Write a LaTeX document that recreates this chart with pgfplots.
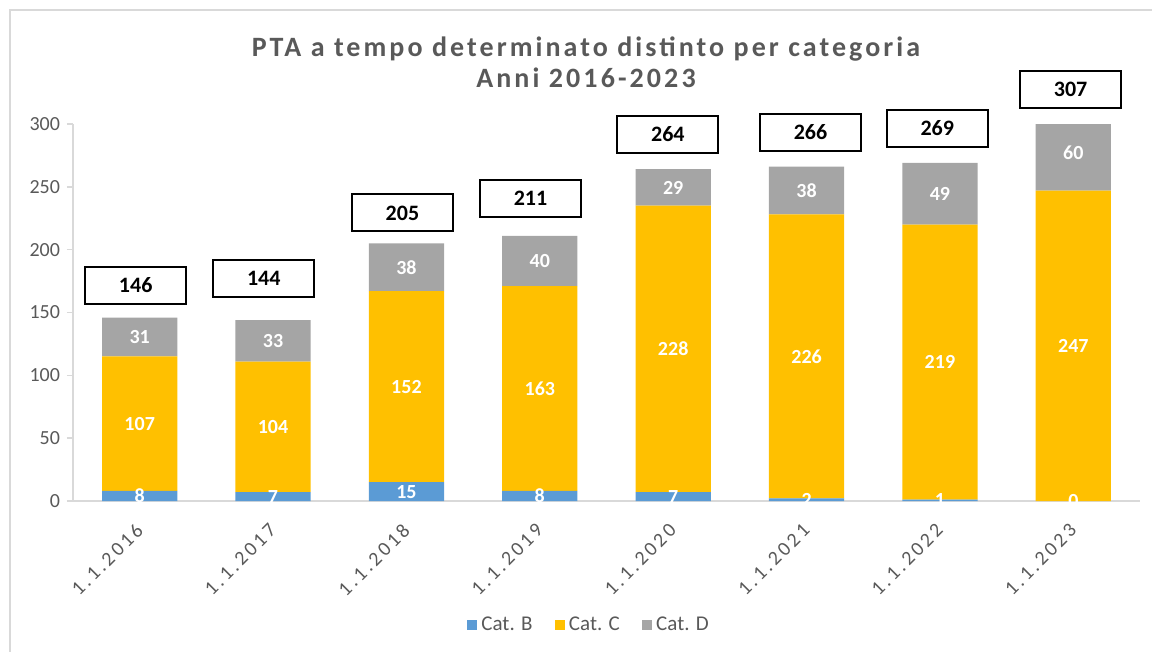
\documentclass[border=0pt]{standalone}
\usepackage{pgfplots}
\usepackage{pgfplotstable}
\usepackage{fontspec}
\setmainfont{Carlito}
\newfontfamily\titlefont[LetterSpace=11]{Carlito}
\newfontfamily\tickfont[LetterSpace=15]{Carlito}
\pgfplotsset{compat=1.18}
\definecolor{catB}{HTML}{5B9BD5}
\definecolor{catC}{HTML}{FFC000}
\definecolor{catD}{HTML}{A5A5A5}
\definecolor{axgray}{HTML}{D9D9D9}
\definecolor{txtgray}{HTML}{595959}

\pgfplotstableread{
x B C D ty dx
0 8 107 31 171.5 -0.03
1 7 104 33 177.4 -0.07
2 15 152 38 229.2 -0.03
3 8 163 40 240.7 -0.07
4 7 228 29 291.6 -0.04
5 2 226 38 293.6 0.03
6 1 219 49 296.4 -0.02
7 0 247 60 327.8 -0.02
}\data

\pgfplotsset{base/.style={width=533.5bp, height=188.5bp, scale only axis,
  xmin=-0.5, xmax=7.5, ymin=0, ymax=300, at={(0,0)}, anchor=south west}}

\begin{document}
\begin{tikzpicture}
\path[use as bounding box] (-36.5bp,-75.5bp) rectangle (539.5bp,250.5bp);
\draw[axgray, line width=1bp] (-31.5bp,-75.5bp) -- (-31.5bp,245.5bp) -- (539.5bp,245.5bp);

\begin{axis}[base, ybar stacked, bar width=0.564,
  axis x line*=bottom, axis y line*=left,
  axis line style={axgray, line width=1bp},
  xtick={0,...,7},
  xticklabels={1.1.2016,1.1.2017,1.1.2018,1.1.2019,1.1.2020,1.1.2021,1.1.2022,1.1.2023},
  ytick={0,50,...,300},
  xtick style={draw=none},
  ytick style={axgray, line width=0.75bp},
  tick align=outside, major tick length=3bp,
  /pgf/number format/assume math mode=true,
  yticklabel style={font=\fontsize{10bp}{12bp}\selectfont, text=txtgray},
  xticklabel style={rotate=45, anchor=north east, inner sep=0pt, xshift=-7bp, yshift=-3.5bp,
    font=\tickfont\fontsize{10bp}{12bp}\selectfont, text=txtgray},
  legend style={at={(0.4845,-0.329)}, anchor=center, legend columns=3, draw=none,
    font=\fontsize{10.5bp}{12bp}\selectfont, text=txtgray,
    /tikz/every even column/.append style={column sep=9bp}},
  legend image code/.code={\fill[#1, draw=none] (0bp,-2.6bp) rectangle (5.2bp,2.6bp);},
]
\addplot[fill=catB, draw=none] table[x=x, y=B]{\data};
\addplot[fill=catC, draw=none] table[x=x, y=C]{\data};
\addplot[fill=catD, draw=none] table[x=x, y=D]{\data};
\legend{Cat. B, Cat. C, Cat. D}
\end{axis}

\begin{axis}[base, hide axis, clip=false,
  nodes near coords,
  /pgf/number format/assume math mode=true,
  nodes near coords style={anchor=center, text=white, font=\bfseries\fontsize{10bp}{12bp}\selectfont}]
\addplot[draw=none, mark=none, point meta=\thisrow{B}] table[x=x, y expr=\thisrow{B}/2]{\data};
\addplot[draw=none, mark=none, point meta=\thisrow{C}] table[x=x, y expr=\thisrow{B}+\thisrow{C}/2]{\data};
\addplot[draw=none, mark=none, point meta=\thisrow{D}] table[x=x, y expr=\thisrow{B}+\thisrow{C}+\thisrow{D}/2]{\data};
\addplot[draw=none, mark=none, point meta={\thisrow{B}+\thisrow{C}+\thisrow{D}},
  nodes near coords style={text=black, fill=white, draw=black, line width=1bp,
    minimum width=50.5bp, minimum height=18.5bp, inner sep=0pt,
    font=\bfseries\fontsize{11bp}{13bp}\selectfont}]
  table[x expr=\thisrow{x}+\thisrow{dx}, y=ty]{\data};
\end{axis}

\node[font=\titlefont\bfseries\fontsize{14bp}{15.5bp}\selectfont, text=txtgray, align=center]
  at (256.5bp,219.25bp) {PTA a tempo determinato distinto per categoria\\Anni 2016-2023};
\end{tikzpicture}
\end{document}
